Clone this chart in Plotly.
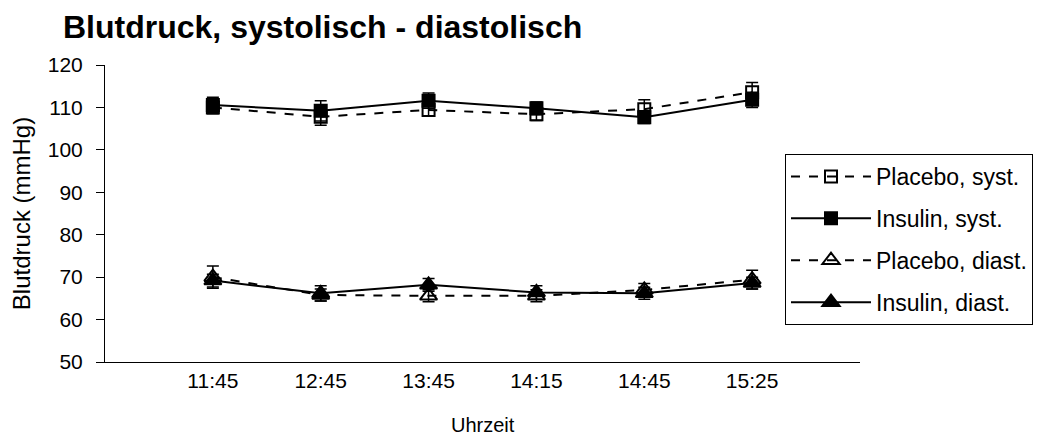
import plotly.graph_objects as go

# Messzeitpunkte
zeiten = ["11:45", "12:45", "13:45", "14:15", "14:45", "15:25"]
pos = [1, 2, 3, 4, 5, 6]

# Mittelwerte (mmHg)
placebo_syst = [110.0, 107.8, 109.4, 108.4, 109.6, 113.6]
insulin_syst = [110.6, 109.2, 111.6, 109.8, 107.7, 111.8]
placebo_diast = [70.0, 65.8, 65.6, 65.6, 67.0, 69.4]
insulin_diast = [69.2, 66.2, 68.2, 66.4, 66.2, 68.6]

# Standardfehler (mmHg)
placebo_syst_err = [1.5, 2.0, 1.5, 1.5, 2.2, 2.3]
insulin_syst_err = [1.8, 2.4, 1.8, 1.5, 1.5, 1.8]
placebo_diast_err = [2.6, 1.4, 1.4, 1.4, 1.5, 2.2]
insulin_diast_err = [1.5, 1.8, 1.5, 1.6, 1.4, 1.4]

FONT = "Liberation Sans, Arial, sans-serif"

serien = [
    ("Placebo, syst.", placebo_syst, placebo_syst_err, "dash", "square-open", 12),
    ("Insulin, syst.", insulin_syst, insulin_syst_err, "solid", "square", 12),
    ("Placebo, diast.", placebo_diast, placebo_diast_err, "dash", "triangle-up-open", 15),
    ("Insulin, diast.", insulin_diast, insulin_diast_err, "solid", "triangle-up", 15),
]

fig = go.Figure()
for i, (name, werte, fehler, dash, symbol, size) in enumerate(serien):
    fig.add_trace(go.Scatter(
        x=pos, y=werte, name=name, mode="lines+markers",
        legendgroup=str(i),
        line=dict(color="black", width=2, dash=dash),
        marker=dict(symbol=symbol, size=size, color="black",
                    line=dict(color="black", width=2)),
        error_y=dict(type="data", array=fehler, visible=True,
                     color="black", thickness=1.5, width=6),
    ))

fig.update_layout(
    width=1040, height=436,
    margin=dict(l=105, r=180, t=65, b=74, autoexpand=False),
    paper_bgcolor="white", plot_bgcolor="white",
    font=dict(family=FONT, size=20, color="black"),
    title=dict(text="<b>Blutdruck, systolisch - diastolisch</b>",
               x=63 / 1040, xanchor="left", y=0.965, yanchor="top",
               font=dict(size=32)),
    showlegend=True,
    legend=dict(xref="container", yref="container",
                x=785 / 1040, y=1 - 154 / 436, xanchor="left", yanchor="top",
                bordercolor="black", borderwidth=1, bgcolor="white",
                tracegroupgap=9, itemwidth=80,
                font=dict(size=23)),
    annotations=[dict(text="Uhrzeit", xref="paper", yref="paper",
                      x=0.5, y=-0.212, xanchor="center", yanchor="middle",
                      showarrow=False, font=dict(size=20))],
)

fig.update_xaxes(
    range=[0, 7], tickmode="array", tickvals=pos, ticktext=zeiten,
    showline=True, linecolor="black", linewidth=1,
    ticks="", showgrid=False, zeroline=False,
    tickfont=dict(size=21), automargin=False,
)
fig.update_yaxes(
    range=[50, 120], tickmode="linear", tick0=50, dtick=10,
    showline=True, linecolor="black", linewidth=1,
    ticks="outside", ticklen=8, tickcolor="black",
    ticklabelstandoff=9, tickfont=dict(size=21),
    showgrid=False, zeroline=False, automargin=False,
    title=dict(text="Blutdruck (mmHg)", standoff=10),
)

fig.write_html("out.html")
